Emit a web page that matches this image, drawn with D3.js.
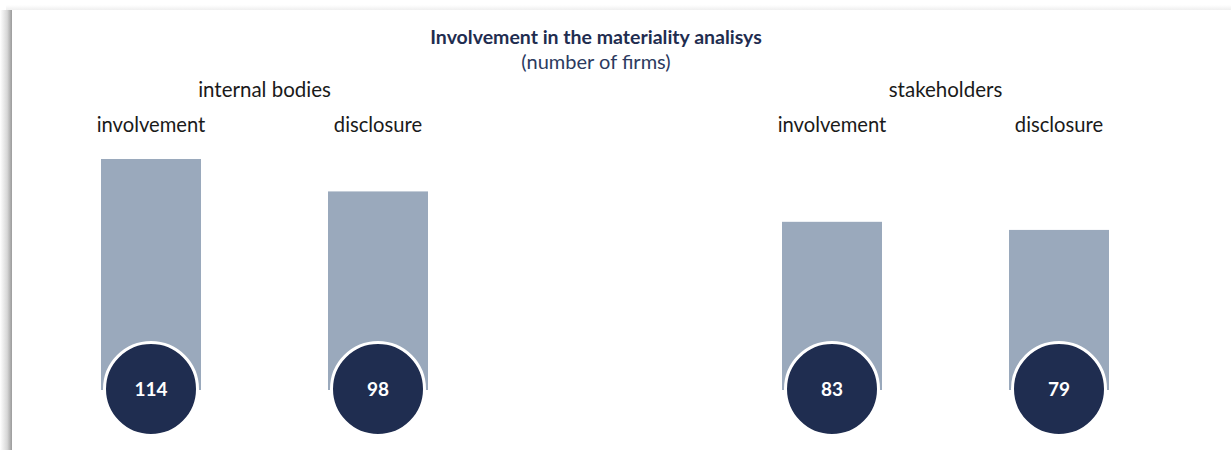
<!DOCTYPE html>
<html>
<head>
<meta charset="utf-8">
<script src="https://cdn.jsdelivr.net/npm/d3@7"></script>
<style>
  html, body { margin: 0; padding: 0; background: #fff; }
  svg { display: block; font-family: "Lato", "Noto Sans", sans-serif; }
</style>
</head>
<body>
<div id="chart"></div>
<script>

// data
var groups = ["internal bodies", "stakeholders"];
var measures = ["involvement", "disclosure"];
var slots = ["internal bodies|involvement", "internal bodies|disclosure", "gap",
             "stakeholders|involvement", "stakeholders|disclosure"];
var values = [114, 98, 83, 79];

var width = 1231, height = 450;
var navy = "#1f2d50", barColor = "#9aa9bc";

var svg = d3.select("#chart").append("svg")
    .attr("width", width)
    .attr("height", height);

// card shadow on the left and top
var defs = svg.append("defs");
var gl = defs.append("linearGradient").attr("id", "shadowLeft")
    .attr("x1", 0).attr("x2", 1).attr("y1", 0).attr("y2", 0);
gl.append("stop").attr("offset", "0%").attr("stop-color", "#ffffff");
gl.append("stop").attr("offset", "60%").attr("stop-color", "#d6d6d6");
gl.append("stop").attr("offset", "100%").attr("stop-color", "#9a9a9a");
var gt = defs.append("linearGradient").attr("id", "shadowTop")
    .attr("x1", 0).attr("x2", 0).attr("y1", 0).attr("y2", 1);
gt.append("stop").attr("offset", "0%").attr("stop-color", "#ffffff");
gt.append("stop").attr("offset", "100%").attr("stop-color", "#efefef");

svg.append("rect").attr("x", 0).attr("y", 10).attr("width", 12).attr("height", height - 10)
    .attr("fill", "url(#shadowLeft)");
svg.append("rect").attr("x", 6).attr("y", 5).attr("width", width - 6).attr("height", 5)
    .attr("fill", "url(#shadowTop)");

var x = d3.scalePoint()
    .domain(slots)
    .range([37.5, 1172.5])
    .padding(0.5);

var y = d3.scaleLinear()
    .domain([0, 114])
    .range([390, 159]);

var barWidth = 100, radius = 46.5;

var rows = [];
groups.forEach(function (g, gi) {
    measures.forEach(function (m, mi) {
        rows.push({ group: g, measure: m, key: g + "|" + m, value: values[gi * 2 + mi] });
    });
});

// title
svg.append("text")
    .attr("x", 596).attr("y", 44)
    .attr("text-anchor", "middle")
    .attr("font-size", 19.5).attr("font-weight", "bold")
    .attr("fill", navy)
    .text("Involvement in the materiality analisys");
svg.append("text")
    .attr("x", 596).attr("y", 69)
    .attr("text-anchor", "middle")
    .attr("font-size", 20)
    .attr("fill", "#2c3a60")
    .text("(number of firms)");

// group labels
svg.selectAll(".group-label")
    .data(groups)
    .enter().append("text")
    .attr("class", "group-label")
    .attr("x", function (g) {
        return d3.mean(measures, function (m) { return x(g + "|" + m); });
    })
    .attr("y", 97)
    .attr("text-anchor", "middle")
    .attr("font-size", 20.5)
    .attr("fill", "#1a1a1a")
    .text(function (g) { return g; });

// measure labels
svg.selectAll(".measure-label")
    .data(rows)
    .enter().append("text")
    .attr("class", "measure-label")
    .attr("x", function (d) { return x(d.key); })
    .attr("y", 132)
    .attr("text-anchor", "middle")
    .attr("font-size", 20.2)
    .attr("fill", "#1a1a1a")
    .text(function (d) { return d.measure; });

// bars
svg.selectAll(".bar")
    .data(rows)
    .enter().append("rect")
    .attr("class", "bar")
    .attr("x", function (d) { return x(d.key) - barWidth / 2; })
    .attr("y", function (d) { return y(d.value); })
    .attr("width", barWidth)
    .attr("height", function (d) { return y(0) - y(d.value); })
    .attr("fill", barColor);

// bubbles with values
svg.selectAll(".bubble")
    .data(rows)
    .enter().append("circle")
    .attr("class", "bubble")
    .attr("cx", function (d) { return x(d.key); })
    .attr("cy", y(0) - 1)
    .attr("r", radius)
    .attr("fill", navy)
    .attr("stroke", "#fff")
    .attr("stroke-width", 3);

svg.selectAll(".value-label")
    .data(rows)
    .enter().append("text")
    .attr("class", "value-label")
    .attr("x", function (d) { return x(d.key); })
    .attr("y", y(0) - 1)
    .attr("dy", "0.35em")
    .attr("text-anchor", "middle")
    .attr("font-size", 19).attr("font-weight", "bold")
    .attr("fill", "#fff")
    .text(function (d) { return d.value; });

</script>
</body>
</html>
